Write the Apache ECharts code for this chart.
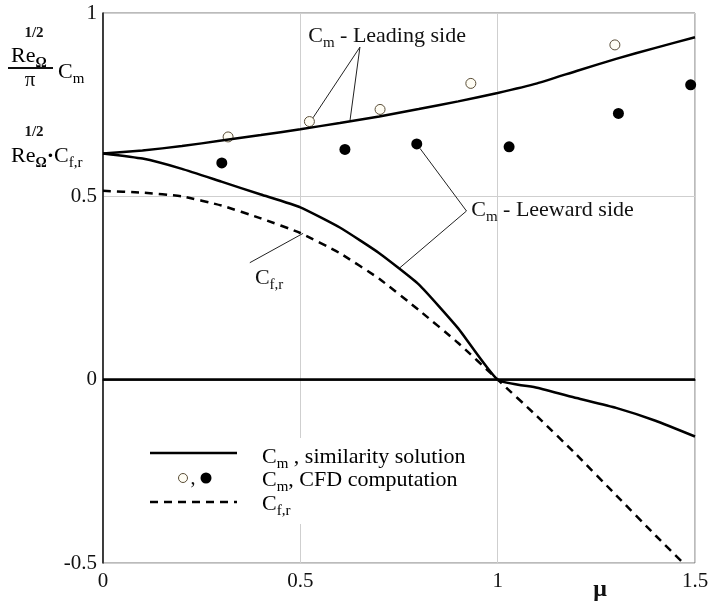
<!DOCTYPE html>
<html>
<head>
<meta charset="utf-8">
<script src="https://cdn.jsdelivr.net/npm/echarts@6/dist/echarts.min.js"></script>
</head>
<body style="margin:0">
<div id="main" style="width:715px;height:604px;"></div>
<script>
// similarity solution, sampled on mu
var mu        = [0, 0.1, 0.2, 0.3, 0.4, 0.5, 0.6, 0.7, 0.8, 0.9, 1.0, 1.1, 1.2, 1.3, 1.4, 1.5];
var cmLeading = [0.617, 0.625, 0.637, 0.652, 0.667, 0.683, 0.700, 0.718, 0.738, 0.759, 0.782, 0.808, 0.842, 0.875, 0.905, 0.934];
var cmLeeward = [0.617, 0.603, 0.575, 0.540, 0.505, 0.470, 0.415, 0.345, 0.260, 0.140, 0.000, -0.022, -0.050, -0.077, -0.112, -0.155];
var cfrMu     = [0, 0.1, 0.2, 0.3, 0.4, 0.5, 0.6, 0.7, 0.8, 0.9, 1.0, 1.1, 1.2, 1.3, 1.4, 1.47];
var cfr       = [0.515, 0.510, 0.500, 0.475, 0.440, 0.400, 0.345, 0.275, 0.190, 0.100, 0.000, -0.100, -0.205, -0.315, -0.425, -0.500];

// CFD computation
var openMu   = [0.317, 0.523, 0.702, 0.932, 1.297];
var openCm   = [0.662, 0.704, 0.737, 0.808, 0.913];
var filledMu = [0.301, 0.613, 0.795, 1.029, 1.306, 1.489];
var filledCm = [0.591, 0.628, 0.643, 0.635, 0.726, 0.804];

// annotations (data coordinates)
var noteText = ['{n|C}{s|m}{n| - Leading side}', '{n|C}{s|m}{n| - Leeward side}', '{n|C}{s|f,r}'];
var noteAt   = [[0.52, 0.937], [0.933, 0.463], [0.385, 0.277]];
var leaders  = [
  [[0.651, 0.907], [0.532, 0.714]],
  [[0.651, 0.907], [0.626, 0.708]],
  [[0.921, 0.460], [0.803, 0.631]],
  [[0.921, 0.460], [0.752, 0.305]],
  [[0.372, 0.319], [0.507, 0.399]]
];

var FONT = 'Liberation Serif';
var INK = '#111';
var rich = {
  n: {fontFamily: FONT, fontSize: 22, color: INK},
  s: {fontFamily: FONT, fontSize: 15, color: INK, padding: [14, 0, 0, 0]},
  b: {fontFamily: FONT, fontSize: 14, fontWeight: 'bold', color: INK, padding: [14, 0, 0, 0]},
  d: {fontFamily: FONT, fontSize: 22, fontWeight: 'bold', color: INK}
};

function pairs(xs, ys) {
  return xs.map(function (x, i) { return [x, ys[i]]; });
}

var myChart = echarts.init(document.getElementById('main'));

function txt(x, y, text, align) {
  return {
    type: 'text', x: x, y: y, z: 100,
    style: {text: text, rich: rich, align: align || 'left', verticalAlign: 'middle'}
  };
}

var option = {
  animation: false,
  backgroundColor: '#fff',
  grid: {left: 103, right: 20, top: 13, bottom: 41, show: true, borderColor: '#777', borderWidth: 1},
  xAxis: {
    type: 'value', min: 0, max: 1.5, interval: 0.5,
    axisLine: {lineStyle: {color: '#111', width: 1.5}},
    axisTick: {show: false},
    splitLine: {lineStyle: {color: '#cfcfcf', width: 1}},
    axisLabel: {fontFamily: FONT, fontSize: 21, color: INK, margin: 8}
  },
  yAxis: {
    type: 'value', min: -0.5, max: 1, interval: 0.5,
    axisLine: {show: true, lineStyle: {color: '#111', width: 1.5}},
    axisTick: {show: false},
    splitLine: {lineStyle: {color: '#cfcfcf', width: 1}},
    axisLabel: {fontFamily: FONT, fontSize: 21, color: INK, margin: 6}
  },
  series: [
    {
      type: 'line', data: pairs(mu, cmLeading), smooth: 0.15, symbol: 'none',
      lineStyle: {color: '#000', width: 2.5},
      markLine: {
        silent: true, symbol: 'none', label: {show: false},
        lineStyle: {color: '#000', width: 2.5, type: 'solid'},
        data: [{yAxis: 0}]
      }
    },
    {
      type: 'line', data: pairs(mu, cmLeeward), smooth: 0.15, symbol: 'none',
      lineStyle: {color: '#000', width: 2.5}
    },
    {
      type: 'line', data: pairs(cfrMu, cfr), smooth: 0.15, symbol: 'none',
      lineStyle: {color: '#000', width: 2.5, type: [8, 6]}
    },
    {
      type: 'lines', coordinateSystem: 'cartesian2d', silent: true,
      lineStyle: {color: '#222', width: 1, opacity: 1},
      data: leaders.map(function (c) { return {coords: c}; })
    },
    {
      type: 'scatter', data: pairs(openMu, openCm), symbol: 'circle', symbolSize: 10,
      itemStyle: {color: '#fffdf4', borderColor: '#5a4e38', borderWidth: 1, opacity: 1}
    },
    {
      type: 'scatter', data: pairs(filledMu, filledCm), symbol: 'circle', symbolSize: 11,
      itemStyle: {color: '#000', opacity: 1}
    },
    {
      type: 'scatter', data: noteAt, symbolSize: 0, silent: true,
      itemStyle: {opacity: 1},
      label: {
        show: true, position: 'right', distance: 0, rich: rich, color: INK, opacity: 1,
        formatter: function (p) { return noteText[p.dataIndex]; }
      }
    }
  ],
  graphic: [
    // y axis title, line 1
    {type: 'text', x: 34, y: 33, z: 100, style: {text: '1/2', font: 'bold 15px "Liberation Serif"', fill: INK, align: 'center', verticalAlign: 'middle'}},
    txt(11, 56, '{n|Re}{b|Ω}'),
    {type: 'line', z: 100, shape: {x1: 8, y1: 68, x2: 53, y2: 68}, style: {stroke: INK, lineWidth: 2}},
    {type: 'text', x: 30, y: 80, z: 100, style: {text: 'π', font: '21px "Liberation Serif"', fill: INK, align: 'center', verticalAlign: 'middle'}},
    txt(58, 72, '{n|C}{s|m}'),
    // y axis title, line 2
    {type: 'text', x: 34, y: 132, z: 100, style: {text: '1/2', font: 'bold 15px "Liberation Serif"', fill: INK, align: 'center', verticalAlign: 'middle'}},
    txt(11, 156, '{n|Re}{b|Ω}{d|·}{n|C}{s|f,r}'),
    // x axis name
    {type: 'text', x: 600, y: 590, z: 100, style: {text: 'μ', font: 'bold 24px "Liberation Serif"', fill: INK, align: 'center', verticalAlign: 'middle'}},
    // legend
    {type: 'rect', z: 90, shape: {x: 140, y: 438, width: 345, height: 86}, style: {fill: '#fff'}},
    {type: 'line', z: 100, shape: {x1: 150, y1: 453, x2: 237, y2: 453}, style: {stroke: '#000', lineWidth: 2.5}},
    txt(262, 457, '{n|C}{s|m}{n| , similarity solution}'),
    {type: 'circle', z: 100, shape: {cx: 183, cy: 478, r: 4.5}, style: {fill: '#fffdf4', stroke: '#5a4e38', lineWidth: 1}},
    {type: 'text', x: 193, y: 479, z: 100, style: {text: ',', font: '20px "Liberation Serif"', fill: INK, align: 'center', verticalAlign: 'middle'}},
    {type: 'circle', z: 100, shape: {cx: 206, cy: 478, r: 5.5}, style: {fill: '#000'}},
    txt(262, 480, '{n|C}{s|m}{n|, CFD computation}'),
    {type: 'line', z: 100, shape: {x1: 150, y1: 502, x2: 237, y2: 502}, style: {stroke: '#000', lineWidth: 2.5, lineDash: [8, 6]}},
    txt(262, 504, '{n|C}{s|f,r}')
  ]
};

myChart.setOption(option);
</script>
</body>
</html>
